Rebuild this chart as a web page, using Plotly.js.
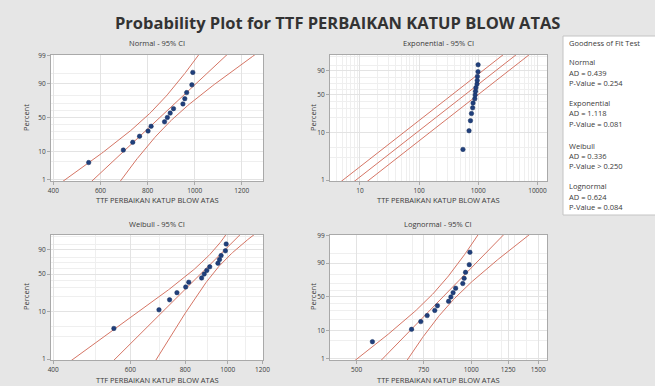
<!DOCTYPE html>
<html><head><meta charset="utf-8">
<script src="https://cdn.plot.ly/plotly-3.0.1.min.js"></script>
<style>html,body{margin:0;padding:0;background:#e6e6e6;}#chart{width:655px;height:386px;}</style>
</head><body><div id="chart"></div>
<script>
// ---- data ----
const ttf = [550, 697, 737, 766, 802, 815, 872, 884, 896, 910, 950, 958, 966, 988, 992];
const percent = [4.5, 11.0, 17.5, 24.0, 30.5, 37.0, 43.5, 50.0, 56.5, 63.0, 69.5, 76.0, 82.5, 89.0, 95.5];

const normalXTicks = [400, 600, 800, 1000, 1200];
const expXTicks = [10, 100, 1000, 10000];
const weibullXTicks = [400, 600, 800, 1000, 1200];
const lognormalXTicks = [500, 750, 1000, 1250, 1500];
const normalPctTicks = [1, 10, 50, 90, 99];
const weibullPctTicks = [1, 10, 50, 90];

const chartTitle = "Probability Plot for TTF PERBAIKAN KATUP BLOW ATAS";
const subTitles = ["Normal - 95% CI", "Exponential - 95% CI", "Weibull - 95% CI", "Lognormal - 95% CI"];
const xTitle = "TTF PERBAIKAN KATUP BLOW ATAS";
const yTitle = "Percent";
const gofHeader = "Goodness of Fit Test";
const gofNames = ["Normal", "Exponential", "Weibull", "Lognormal"];
const gofAD = ["AD = 0.439", "AD = 1.118", "AD = 0.336", "AD = 0.624"];
const gofP = ["P-Value = 0.254", "P-Value = 0.081", "P-Value > 0.250", "P-Value = 0.084"];

// ---- helpers ----
function normInv(p){
  const a=[-3.969683028665376e+01,2.209460984245205e+02,-2.759285104469687e+02,1.383577518672690e+02,-3.066479806614716e+01,2.506628277459239e+00];
  const b=[-5.447609879822406e+01,1.615858368580409e+02,-1.556989798598866e+02,6.680131188771972e+01,-1.328068155288572e+01];
  const c=[-7.784894002430293e-03,-3.223964580411365e-01,-2.400758277161838e+00,-2.549732539343734e+00,4.374664141464968e+00,2.938163982698783e+00];
  const d=[7.784695709041462e-03,3.224671290700398e-01,2.445134137142996e+00,3.754408661907416e+00];
  const pl=0.02425, ph=1-pl; let q,r;
  if(p<pl){q=Math.sqrt(-2*Math.log(p));return (((((c[0]*q+c[1])*q+c[2])*q+c[3])*q+c[4])*q+c[5])/((((d[0]*q+d[1])*q+d[2])*q+d[3])*q+1);}
  if(p>ph){q=Math.sqrt(-2*Math.log(1-p));return -(((((c[0]*q+c[1])*q+c[2])*q+c[3])*q+c[4])*q+c[5])/((((d[0]*q+d[1])*q+d[2])*q+d[3])*q+1);}
  q=p-0.5;r=q*q;return (((((a[0]*r+a[1])*r+a[2])*r+a[3])*r+a[4])*r+a[5])*q/(((((b[0]*r+b[1])*r+b[2])*r+b[3])*r+b[4])*r+1);
}
const sevW = p => Math.log(-Math.log(1-p));

const n = ttf.length;
const zc = 1.959964;
const mean = ttf.reduce((s,v)=>s+v,0)/n;
const sd = Math.sqrt(ttf.reduce((s,v)=>s+(v-mean)**2,0)/n);
const lx = ttf.map(v=>Math.log(v));
const lmean = lx.reduce((s,v)=>s+v,0)/n;
const lsd = Math.sqrt(lx.reduce((s,v)=>s+(v-lmean)**2,0)/n);
const theta = mean;
// Weibull MLE
const mx = Math.max(...ttf);
function fk(k){let s0=0,s1=0;ttf.forEach(v=>{const t=Math.pow(v/mx,k);s0+=t;s1+=t*Math.log(v);});return s1/s0-1/k-lmean;}
let lo=0.3,hi=200;for(let i=0;i<200;i++){const m=(lo+hi)/2;if(fk(m)>0)hi=m;else lo=m;}
const kShape=(lo+hi)/2;
const lam = mx*Math.pow(ttf.reduce((s,v)=>s+Math.pow(v/mx,kShape),0)/n,1/kShape);
const wu=Math.log(lam), wb=1/kShape;

// grids (scale positions)
const zGrid=[],wGrid=[];
for(let z=-3;z<=3.0001;z+=0.05)zGrid.push(z);
for(let w=-6;w<=2.5001;w+=0.05)wGrid.push(w);

const LC = "#d57565";
const MC = "#203f7c";
function lineTr(x,y,xa,ya){return {x:x,y:y,xaxis:xa,yaxis:ya,mode:"lines",type:"scatter",line:{color:LC,width:1},hoverinfo:"skip",showlegend:false};}
function ptTr(x,y,xa,ya){return {x:x,y:y,xaxis:xa,yaxis:ya,mode:"markers",type:"scatter",marker:{color:MC,size:4.5,line:{color:"#16305e",width:0.5}},showlegend:false};}

const traces=[];
// Normal
const nFit=zGrid.map(z=>mean+z*sd);
const nLo=zGrid.map(z=>mean+z*sd-zc*sd*Math.sqrt(1/n+z*z/(2*n)));
const nHi=zGrid.map(z=>mean+z*sd+zc*sd*Math.sqrt(1/n+z*z/(2*n)));
traces.push(lineTr(nLo,zGrid,"x","y"),lineTr(nFit,zGrid,"x","y"),lineTr(nHi,zGrid,"x","y"));
traces.push(ptTr(ttf,percent.map(p=>normInv(p/100)),"x","y"));
// Exponential
const eFit=wGrid.map(w=>Math.exp(Math.log(theta)+w));
const eLo=wGrid.map(w=>Math.exp(Math.log(theta)+w-zc/Math.sqrt(n)));
const eHi=wGrid.map(w=>Math.exp(Math.log(theta)+w+zc/Math.sqrt(n)));
traces.push(lineTr(eLo,wGrid,"x2","y2"),lineTr(eFit,wGrid,"x2","y2"),lineTr(eHi,wGrid,"x2","y2"));
traces.push(ptTr(ttf,percent.map(p=>sevW(p/100)),"x2","y2"));
// Weibull
const wv=w=>wb*Math.sqrt((1.1087+0.6079*w*w-2*0.2570*w)/n);
const wFit=wGrid.map(w=>Math.exp(wu+wb*w));
const wLo=wGrid.map(w=>Math.exp(wu+wb*w-zc*wv(w)));
const wHi=wGrid.map(w=>Math.exp(wu+wb*w+zc*wv(w)));
traces.push(lineTr(wLo,wGrid,"x3","y3"),lineTr(wFit,wGrid,"x3","y3"),lineTr(wHi,wGrid,"x3","y3"));
traces.push(ptTr(ttf,percent.map(p=>sevW(p/100)),"x3","y3"));
// Lognormal
const lFit=zGrid.map(z=>Math.exp(lmean+z*lsd));
const lLo=zGrid.map(z=>Math.exp(lmean+z*lsd-zc*lsd*Math.sqrt(1/n+z*z/(2*n))));
const lHi=zGrid.map(z=>Math.exp(lmean+z*lsd+zc*lsd*Math.sqrt(1/n+z*z/(2*n))));
traces.push(lineTr(lLo,zGrid,"x4","y4"),lineTr(lFit,zGrid,"x4","y4"),lineTr(lHi,zGrid,"x4","y4"));
traces.push(ptTr(ttf,percent.map(p=>normInv(p/100)),"x4","y4"));

// ---- layout ----
const W=655,H=386;
const px=v=>v/W, py=v=>1-v/H;
const FONT="Open Sans, Noto Sans, sans-serif";
const TXT="#3a3a3a";
const common={showgrid:true,gridcolor:"#e3e3e3",gridwidth:1,zeroline:false,showline:true,mirror:true,linecolor:"#a9a9a9",linewidth:1,
  ticks:"outside",ticklen:3,tickcolor:"#a9a9a9",tickfont:{size:6.5,color:TXT,family:FONT},fixedrange:true};
function logMinor(a,b){const v=[];for(let d=a;d<b;d*=10)for(let m=2;m<=9;m++)v.push(d*m);return v;}
const minorPct=[5,20,30,40,60,70,80,95];
const minorStyle={showgrid:true,gridcolor:"#efefef",ticks:""};

const colL=[px(51),px(263)], colR=[px(330),px(547)];
const rowT=[py(181),py(55)], rowB=[py(360),py(235)];

const layout={
  width:W,height:H,margin:{l:0,r:0,t:0,b:0},
  paper_bgcolor:"#e6e6e6",plot_bgcolor:"#ffffff",showlegend:false,
  font:{family:FONT,color:TXT},
  xaxis:Object.assign({},common,{domain:colL,anchor:"y",range:[390,1290],tickvals:normalXTicks,ticktext:normalXTicks.map(String)}),
  yaxis:Object.assign({},common,{domain:rowT,anchor:"x",range:[-2.39,2.35],tickvals:normalPctTicks.map(p=>normInv(p/100)),ticktext:normalPctTicks.map(String),
    minor:Object.assign({tickvals:minorPct.map(p=>normInv(p/100))},minorStyle)}),
  xaxis2:Object.assign({},common,{domain:colR,anchor:"y2",type:"log",range:[0.493,4.161],tickvals:expXTicks,ticktext:expXTicks.map(String),
    minor:Object.assign({tickvals:logMinor(1,100000)},minorStyle)}),
  yaxis2:Object.assign({},common,{domain:rowT,anchor:"x2",range:[-4.65,1.62],tickvals:weibullPctTicks.map(p=>sevW(p/100)),ticktext:weibullPctTicks.map(String),
    minor:Object.assign({tickvals:[3,5,20,30,40,60,70,80,95,99].map(p=>sevW(p/100))},minorStyle)}),
  xaxis3:Object.assign({},common,{domain:colL,anchor:"y3",type:"log",range:[2.597,3.0805],tickvals:weibullXTicks,ticktext:weibullXTicks.map(String),
    minor:Object.assign({tickvals:[500,700,900,1100]},minorStyle)}),
  yaxis3:Object.assign({},common,{domain:rowB,anchor:"x3",range:[-4.65,1.58],tickvals:weibullPctTicks.map(p=>sevW(p/100)),ticktext:weibullPctTicks.map(String),
    minor:Object.assign({tickvals:[3,5,20,30,40,60,70,80,95,99].map(p=>sevW(p/100))},minorStyle)}),
  xaxis4:Object.assign({},common,{domain:colR,anchor:"y4",type:"log",range:[2.629,3.199],tickvals:lognormalXTicks,ticktext:lognormalXTicks.map(String),
    minor:Object.assign({tickvals:[600,700,800,900,1100,1200,1300,1400]},minorStyle)}),
  yaxis4:Object.assign({},common,{domain:rowB,anchor:"x4",range:[-2.39,2.35],tickvals:normalPctTicks.map(p=>normInv(p/100)),ticktext:normalPctTicks.map(String),
    minor:Object.assign({tickvals:minorPct.map(p=>normInv(p/100))},minorStyle)}),
  shapes:[{type:"rect",xref:"paper",yref:"paper",x0:px(563),x1:1.01,y0:py(215),y1:py(36),fillcolor:"#ffffff",line:{color:"#c4c4c4",width:1},layer:"below"}],
  annotations:[]
};
const A=layout.annotations;
function ann(text,x,y,size,opts){A.push(Object.assign({text:text,xref:"paper",yref:"paper",x:px(x),y:py(y),showarrow:false,xanchor:"center",yanchor:"middle",font:{size:size,color:TXT,family:FONT}},opts||{}));}
ann("<b>"+chartTitle+"</b>",338,23,16.5,{font:{size:16.5,color:"#333333",family:FONT}});
ann(subTitles[0],157,43.5,7.5);
ann(subTitles[1],438,43.5,7.5);
ann(subTitles[2],157,224,7.5);
ann(subTitles[3],438,224,7.5);
ann(xTitle,157,200,7.5);
ann(xTitle,438,200,7.5);
ann(xTitle,157,380,7.5);
ann(xTitle,438,380,7.5);
ann(yTitle,26,118,7.5,{textangle:-90});
ann(yTitle,313,118,7.5,{textangle:-90});
ann(yTitle,26,297,7.5,{textangle:-90});
ann(yTitle,313,297,7.5,{textangle:-90});
ann(gofHeader,567,43,7.5,{xanchor:"left"});
const gy=[62,103,145.5,186];
for(let i=0;i<4;i++){
  ann(gofNames[i],567,gy[i],7.5,{xanchor:"left"});
  ann(gofAD[i],567,gy[i]+10.5,7.5,{xanchor:"left"});
  ann(gofP[i],567,gy[i]+20.5,7.5,{xanchor:"left"});
}
Plotly.newPlot("chart",traces,layout,{staticPlot:true,displayModeBar:false});
</script></body></html>
